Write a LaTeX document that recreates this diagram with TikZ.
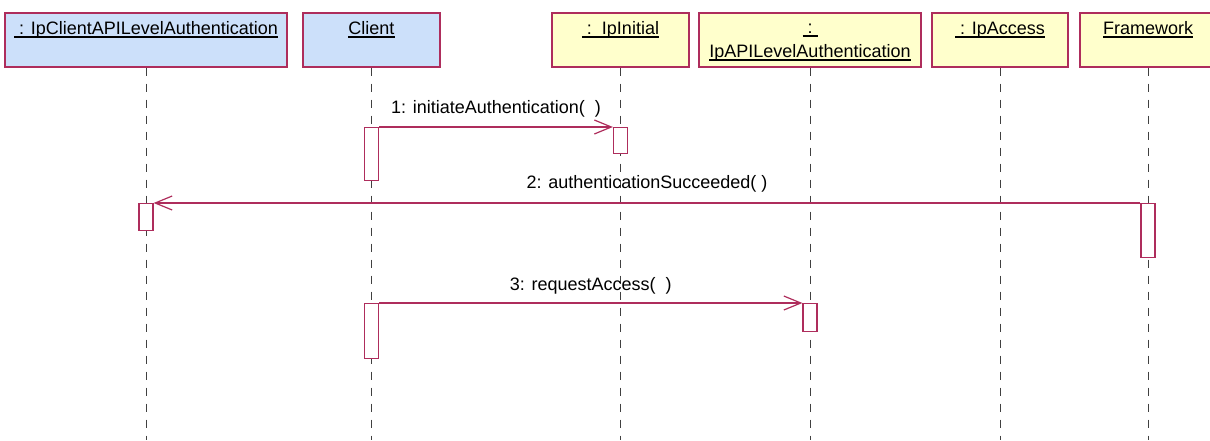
\documentclass[tikz,border=0pt]{standalone}
\usepackage{fontspec}
\setmainfont{Liberation Sans}
\usetikzlibrary{arrows.meta}

\definecolor{bordo}{HTML}{AE2D5C}
\definecolor{azzurro}{HTML}{CCE0FA}
\definecolor{giallino}{HTML}{FFFFCC}
\definecolor{grigio}{HTML}{404040}

% testo sottolineato dei nomi degli oggetti
\newcommand{\sottolinea}[1]{\setbox0=\hbox{#1}\rlap{\rule[-3.5pt]{\wd0}{1.5pt}}\box0}

\tikzset{
  oggetto/.style={draw=bordo, line width=1.2pt, minimum height=54pt, inner sep=0pt},
  attivo/.style={draw=bordo, fill=white, line width=1.2pt, minimum width=14pt, inner sep=0pt, anchor=north},
  vita/.style={draw=grigio, line width=1pt, dash pattern=on 8pt off 8pt},
  messaggio/.style={draw=bordo, line width=1.2pt, -{Straight Barb[length=17pt,width=14pt]}},
  testo/.style={anchor=base, inner sep=0pt, font=\fontsize{18}{24}\selectfont},
}

\begin{document}
\begin{tikzpicture}[x=1pt,y=-1pt]
    \clip (0,0) rectangle (1210,440);

    % Disegna gli oggetti
    \node[oggetto,fill=azzurro,minimum width=282pt] (ipclient) at (146,40) {};
    \node[oggetto,fill=azzurro,minimum width=137pt] (client) at (371.5,40) {};
    \node[oggetto,fill=giallino,minimum width=137pt] (ipinitial) at (620.5,40) {};
    \node[oggetto,fill=giallino,minimum width=222pt] (ipapi) at (810,40) {};
    \node[oggetto,fill=giallino,minimum width=136pt] (ipaccess) at (1000,40) {};
    \node[oggetto,fill=giallino,minimum width=136pt] (framework) at (1148,40) {};

    % Nomi degli oggetti
    \node[testo] (tipclient) at (146,34) {\sottolinea{\ : IpClientAPILevelAuthentication}};
    \node[testo] (tclient) at (371.5,34) {\sottolinea{Client}};
    \node[testo] (tipinitial) at (620.5,34) {\sottolinea{\ :\ \ IpInitial}};
    \node[testo] (tipapi1) at (810,33) {\sottolinea{\ :\ }};
    \node[testo] (tipapi2) at (810,57) {\sottolinea{IpAPILevelAuthentication}};
    \node[testo] (tipaccess) at (1000,34) {\sottolinea{\ : IpAccess}};
    \node[testo] (tframework) at (1148,34) {\sottolinea{Framework}};

    % Disegna le linee di vita
    \foreach \o in {ipclient,client,ipinitial,ipapi,ipaccess,framework}
        \draw[vita] (\o.south) -- (\o.south |- 0,440);

    % Barre di attivazione
    \node[attivo,minimum height=53pt] (client1) at (client.south |- 0,127) {};
    \node[attivo,minimum height=26pt] (ipinitial1) at (ipinitial.south |- 0,127) {};
    \node[attivo,minimum height=54pt] (framework1) at (framework.south |- 0,203) {};
    \node[attivo,minimum height=27pt] (ipclient1) at (ipclient.south |- 0,203) {};
    \node[attivo,minimum height=55pt] (client2) at (client.south |- 0,303) {};
    \node[attivo,minimum height=28pt] (ipapi1) at (ipapi.south |- 0,303) {};

    % Messaggi
    \draw[messaggio] (client1.north east) -- (ipinitial1.north west)
        node[testo,midway,yshift=14pt] (m1) {1: initiateAuthentication(\ \ )};
    \draw[messaggio] (framework1.north west) -- (ipclient1.north east)
        node[testo,midway,yshift=15pt] (m2) {2: authenticationSucceeded(\ )};
    \draw[messaggio] (client2.north east) -- (ipapi1.north west)
        node[testo,midway,yshift=13pt] (m3) {3: requestAccess(\ \ )};

\end{tikzpicture}
\end{document}
